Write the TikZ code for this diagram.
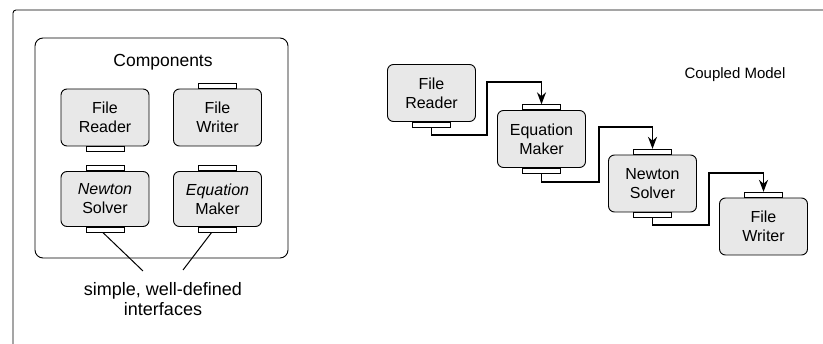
\documentclass[tikz,border=0pt]{standalone}
\usepackage{fontspec}
\setmainfont{Liberation Sans}
\usetikzlibrary{arrows.meta}
\tikzset{
  comp/.style={draw,line width=0.9pt,rounded corners=6pt,fill=gray!18,align=center,
    minimum width=88pt,minimum height=57pt,inner sep=1pt,font=\fontsize{16}{19}\selectfont},
  port/.style={draw,line width=0.7pt,fill=white,minimum width=38pt,minimum height=5pt,inner sep=0pt},
  flow/.style={->,line width=1.4pt},
}
\begin{document}
\begin{tikzpicture}[x=1pt,y=-1pt,>={Stealth[length=12pt,width=9pt]}]
\useasboundingbox (0,0) rectangle (823,344);
% open outer frame
\draw[line width=0.9pt,rounded corners=3pt] (13,344) -- (13,10) -- (823,10);
% components panel
\node[draw,line width=0.9pt,rounded corners=8pt,minimum width=253pt,minimum height=220pt] (panel) at (161.5,148) {};
\node[font=\fontsize{17.5}{20}\selectfont] (comptitle) at (163,62) {Components};
\node[comp] (cfr) at (105,117.5) {File\\Reader};
\node[comp] (cfw) at (217.5,117.5) {File\\Writer};
\node[comp,minimum height=55pt] (cns) at (105,199) {\itshape Newton\\Solver};
\node[comp,minimum height=55pt] (cem) at (217.5,199) {\itshape Equation\\Maker};
\node[port,anchor=north] (cfrout) at (cfr.south) {};
\node[port,anchor=south] (cfwin) at (cfw.north) {};
\node[port,anchor=south] (cnsin) at (cns.north) {};
\node[port,anchor=north] (cnsout) at (cns.south) {};
\node[port,anchor=south] (cemin) at (cem.north) {};
\node[port,anchor=north] (cemout) at (cem.south) {};
\node[align=center,font=\fontsize{18}{20}\selectfont] (iface) at (163,299) {simple, well-defined\\interfaces};
\coordinate (ifl) at (143,271);
\coordinate (ifr) at (183,270);
\draw[line width=1pt] ([xshift=-2pt]cnsout.south) -- (ifl);
\draw[line width=1pt] ([xshift=-6pt]cemout.south) -- (ifr);
% coupled model
\node[font=\fontsize{15}{18}\selectfont] (cmtitle) at (735,75) {Coupled Model};
\node[comp] (fr) at (431.5,93) {File\\Reader};
\node[comp] (em) at (541.5,139) {Equation\\Maker};
\node[comp] (ns) at (652.5,183.5) {Newton\\Solver};
\node[comp] (fw) at (763.5,226.5) {File\\Writer};
\node[port,anchor=north] (frout) at (fr.south) {};
\node[port,anchor=south] (emin) at (em.north) {};
\node[port,anchor=north] (emout) at (em.south) {};
\node[port,anchor=south] (nsin) at (ns.north) {};
\node[port,anchor=north] (nsout) at (ns.south) {};
\node[port,anchor=south] (fwin) at (fw.north) {};
\coordinate (a1) at (487,135);
\coordinate (a2) at (541.5,82);
\coordinate (b1) at (599,182);
\coordinate (b2) at (652.5,127);
\coordinate (c1) at (709,225);
\coordinate (c2) at (763.5,173);
\draw[flow] (frout.south) |- (a1) |- (a2) -- (emin.north);
\draw[flow] (emout.south) |- (b1) |- (b2) -- (nsin.north);
\draw[flow] (nsout.south) |- (c1) |- (c2) -- (fwin.north);
\end{tikzpicture}
\end{document}
